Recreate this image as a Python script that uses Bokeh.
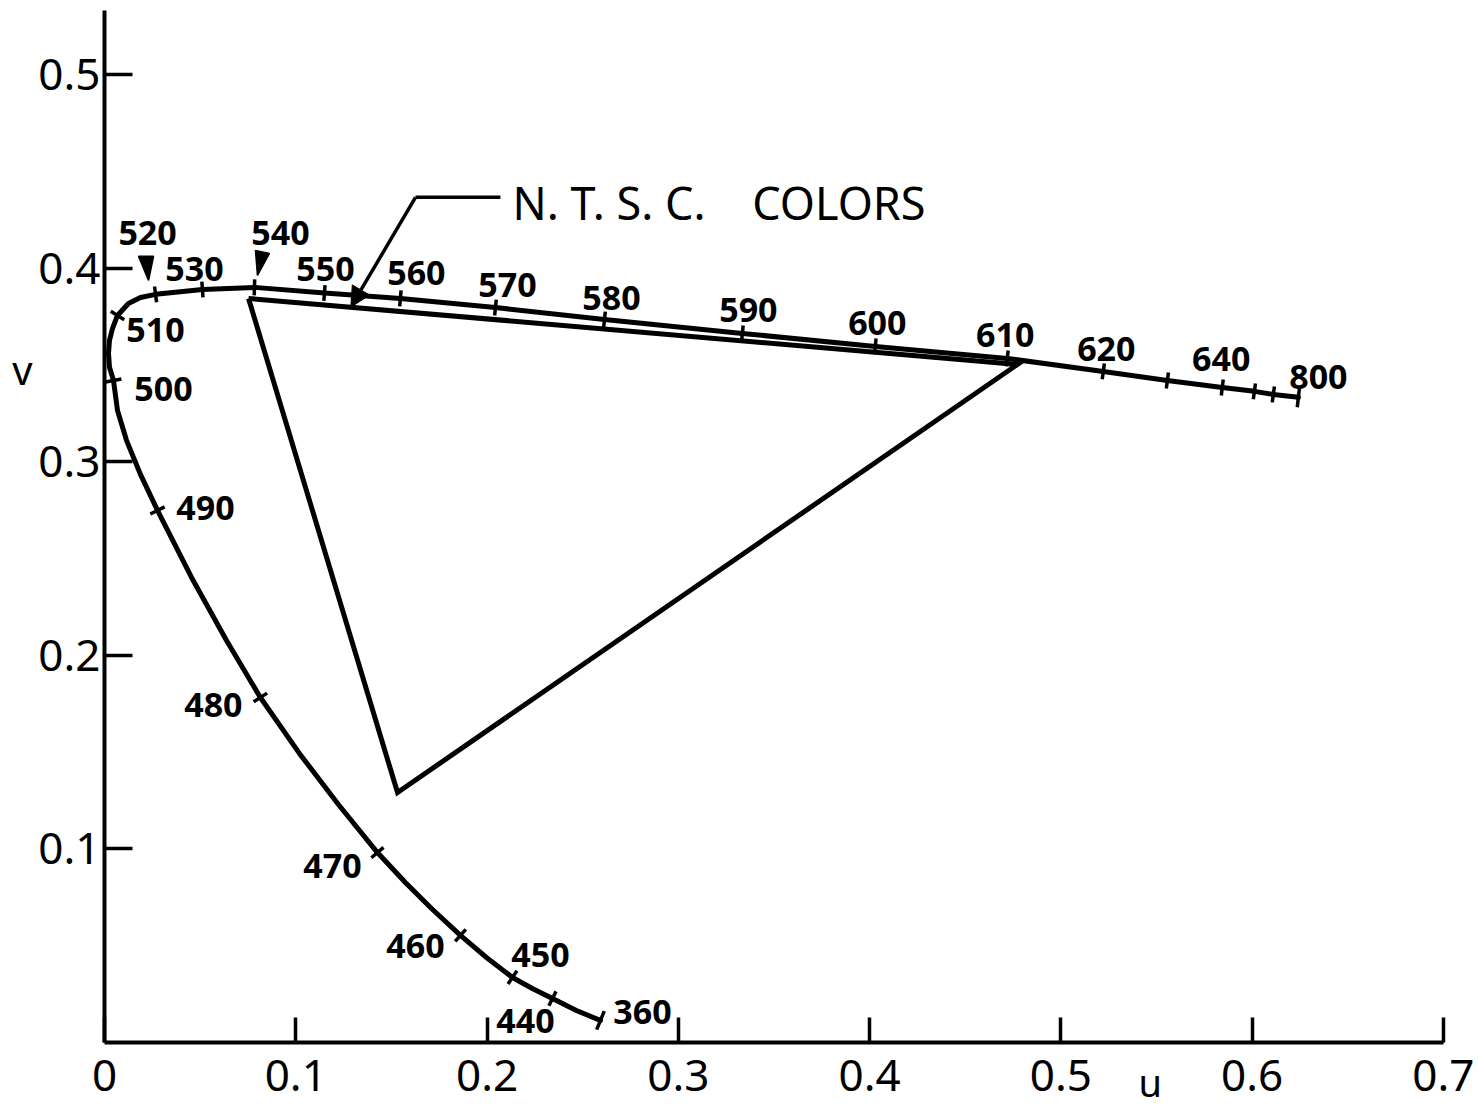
import numpy as np
from bokeh.plotting import figure
from bokeh.models import FixedTicker, Range1d, Label, Arrow, NormalHead, LinearAxis
from bokeh.core.properties import value
from bokeh.embed import file_html
from bokeh.resources import INLINE

# Spectrum locus in the CIE 1960 UCS diagram, short to long wavelength
locus_u = [0.2593, 0.2467, 0.2342, 0.2237, 0.2133, 0.1997, 0.1861, 0.1715,
           0.1573, 0.1427, 0.1223, 0.1019, 0.0815, 0.0638, 0.0455, 0.0277,
           0.0188, 0.0115, 0.0068, 0.0047, 0.0026, 0.0021, 0.0026, 0.0042,
           0.0068, 0.0125, 0.0188, 0.0267, 0.0512, 0.0784, 0.1150, 0.1547,
           0.2044, 0.2614, 0.3335, 0.4030, 0.4720, 0.5222, 0.5557, 0.5844,
           0.6012, 0.6111, 0.6242]
locus_v = [0.0114, 0.0165, 0.0227, 0.0279, 0.0336, 0.0439, 0.0553, 0.0687,
           0.0826, 0.0981, 0.1229, 0.1493, 0.1782, 0.2076, 0.2402, 0.2748,
           0.2934, 0.3110, 0.3264, 0.3419, 0.3487, 0.3559, 0.3626, 0.3688,
           0.3755, 0.3817, 0.3848, 0.3864, 0.3889, 0.3900, 0.3871, 0.3843,
           0.3796, 0.3734, 0.3662, 0.3595, 0.3533, 0.3466, 0.3419, 0.3383,
           0.3363, 0.3347, 0.3332]

# Wavelength marks on the locus (nm)
mark_nm = [360, 440, 450, 460, 470, 480, 490, 500, 510, 520, 530, 540, 550,
           560, 570, 580, 590, 600, 610, 620, 630, 640, 650, 660, 800]
mark_u = [0.2593, 0.2342, 0.2133, 0.1861, 0.1427, 0.0815, 0.0277, 0.0047,
          0.0068, 0.0267, 0.0512, 0.0784, 0.1150, 0.1547, 0.2044, 0.2614,
          0.3335, 0.4030, 0.4720, 0.5222, 0.5557, 0.5844, 0.6012, 0.6111,
          0.6242]
mark_v = [0.0114, 0.0227, 0.0336, 0.0553, 0.0981, 0.1782, 0.2748, 0.3419,
          0.3755, 0.3864, 0.3889, 0.3900, 0.3871, 0.3843, 0.3796, 0.3734,
          0.3662, 0.3595, 0.3533, 0.3466, 0.3419, 0.3383, 0.3363, 0.3347,
          0.3332]
unlabeled_nm = [630, 650, 660]
arrowed_nm = [520, 540]

# N.T.S.C. primaries (G, B, R)
ntsc_u = [0.0753, 0.1532, 0.4773]
ntsc_v = [0.3843, 0.1291, 0.3502]

x_ticks = [0.0, 0.1, 0.2, 0.3, 0.4, 0.5, 0.6, 0.7]
x_tick_labels = ["0", "0.1", "0.2", "0.3", "0.4", "0.5", "0.6", "0.7"]
y_ticks = [0.1, 0.2, 0.3, 0.4, 0.5]
y_tick_labels = ["0.1", "0.2", "0.3", "0.4", "0.5"]

# ---- layout ----
LEFT, RIGHT, TOP, BOTTOM = 104, 16, 10, 71
FW, FH = 1478 - LEFT - RIGHT, 1113 - TOP - BOTTOM
X_END, Y_END = 0.71, 0.533
PXU, PXV = FW / X_END, FH / Y_END   # pixels per data unit
FONT = "Noto Sans"
U_NAME_AT, V_NAME_AT = 0.5468, 0.3476   # where the axis names sit along each axis

# label placement around each mark, screen pixels (right, down)
label_dx = {360: 42, 440: -27, 450: 28, 460: -45, 470: -45, 480: -47,
            490: 48, 500: 50, 510: 38, 520: -8, 530: -8, 540: 26, 550: 1,
            560: 16, 570: 12, 580: 7, 590: 6, 600: 2, 610: -2, 620: 3,
            640: -1, 800: 20}
label_dy = {360: -8, 440: 22, 450: -22, 460: 11, 470: 13, 480: 8, 490: -2,
            500: 8, 510: 15, 520: -61, 530: -21, 540: -54, 550: -24,
            560: -25, 570: -23, 580: -22, 590: -23, 600: -23, 610: -23,
            620: -22, 640: -28, 800: -20}

p = figure(frame_width=FW, frame_height=FH,
           x_range=Range1d(0, X_END), y_range=Range1d(0, Y_END),
           output_backend="svg", toolbar_location=None,
           min_border_left=LEFT, min_border_right=RIGHT,
           min_border_top=TOP, min_border_bottom=BOTTOM,
           x_axis_location="below", y_axis_location="left")
p.outline_line_color = None
p.xgrid.visible = False
p.ygrid.visible = False
p.background_fill_color = "white"
p.border_fill_color = "white"

xa = p.xaxis[0]
xa.ticker = FixedTicker(ticks=x_ticks)
xa.major_label_overrides = dict(zip(x_ticks, x_tick_labels))
xa.bounds = (0, 0.7)
xa.axis_line_width = 4
xa.major_tick_line_width = 3.5
xa.major_tick_in = 25
xa.major_tick_out = 0
xa.minor_tick_line_color = None
xa.major_label_standoff = 17
xa.major_label_text_font = FONT
xa.major_label_text_font_size = "44px"
xa.major_label_text_color = "black"

ya = p.yaxis[0]
ya.ticker = FixedTicker(ticks=y_ticks)
ya.major_label_overrides = dict(zip(y_ticks, y_tick_labels))
ya.bounds = (0, Y_END)
ya.axis_line_width = 4
ya.major_tick_line_width = 3.5
ya.major_tick_in = 28
ya.major_tick_out = 0
ya.minor_tick_line_color = None
ya.major_label_standoff = 4
ya.major_label_text_font = FONT
ya.major_label_text_font_size = "44px"
ya.major_label_text_color = "black"


def name_axis(pos, name, standoff, size):
    """A bare axis whose only label is the axis name, placed at `pos`."""
    return LinearAxis(ticker=FixedTicker(ticks=[pos]),
                      major_label_overrides={pos: name},
                      axis_line_color=None, major_tick_line_color=None,
                      minor_tick_line_color=None,
                      major_tick_in=0, major_tick_out=0,
                      major_label_standoff=standoff,
                      major_label_text_font=FONT,
                      major_label_text_font_size=size,
                      major_label_text_color="black")


p.add_layout(name_axis(U_NAME_AT, "u", -38, "38px"), "below")
p.add_layout(name_axis(V_NAME_AT, "v", 3, "40px"), "left")

# spectrum locus
p.line(locus_u, locus_v, line_width=5, line_color="black",
       line_join="round", line_cap="round")

# N.T.S.C. triangle
p.line(ntsc_u + ntsc_u[:1], ntsc_v + ntsc_v[:1], line_width=5,
       line_color="black", line_join="miter")

# short ticks across the locus at each mark
lu, lv = np.array(locus_u), np.array(locus_v)
sx0, sy0, sx1, sy1 = [], [], [], []
for nm, a, b in zip(mark_nm, mark_u, mark_v):
    k = int(np.argmin((lu - a) ** 2 + (lv - b) ** 2))
    i0, i1 = max(k - 1, 0), min(k + 1, len(lu) - 1)
    tx, ty = (lu[i1] - lu[i0]) * PXU, (lv[i1] - lv[i0]) * PXV
    n = np.hypot(tx, ty)
    nx, ny = -ty / n, tx / n
    half = 10 if nm in (360, 800) else 8
    sx0.append(a - nx * half / PXU)
    sx1.append(a + nx * half / PXU)
    sy0.append(b - ny * half / PXV)
    sy1.append(b + ny * half / PXV)
p.segment(sx0, sy0, sx1, sy1, line_width=3.5, line_color="black")

# wavelength labels
lab_u, lab_v, lab_t, lab_dx, lab_dy = [], [], [], [], []
for nm, a, b in zip(mark_nm, mark_u, mark_v):
    if nm in unlabeled_nm:
        continue
    lab_u.append(a)
    lab_v.append(b)
    lab_t.append(str(nm))
    lab_dx.append(label_dx[nm])
    lab_dy.append(label_dy[nm])
p.text(lab_u, lab_v, text=lab_t, x_offset=lab_dx, y_offset=lab_dy,
       text_align="center", text_baseline="middle",
       text_font=value(FONT), text_font_size="34px", text_font_style="bold",
       text_color="black")

# small pointer wedges above 520 and 540 (screen-pixel shapes: tip, top-left, top-right)
wedge_shape = {520: [(-7, -14), (-17, -38), (-2, -38)],
               540: [(3, -12), (1, -37), (15, -34)]}
wxs, wys = [], []
for nm, a, b in zip(mark_nm, mark_u, mark_v):
    if nm in arrowed_nm:
        wxs.append([a + dx / PXU for dx, dy in wedge_shape[nm]])
        wys.append([b - dy / PXV for dx, dy in wedge_shape[nm]])
p.patches(wxs, wys, fill_color="black", line_color="black", line_width=1.5)

# N.T.S.C. callout pointing at the green-red side of the triangle
frac = 0.133
tip_u = ntsc_u[0] + frac * (ntsc_u[2] - ntsc_u[0])
tip_v = ntsc_v[0] + frac * (ntsc_v[2] - ntsc_v[0])
elbow_u, elbow_v, end_u = 0.1626, 0.4365, 0.2070
p.line([elbow_u, end_u], [elbow_v, elbow_v], line_width=3.5, line_color="black")
p.add_layout(Arrow(x_start=elbow_u, y_start=elbow_v, x_end=tip_u, y_end=tip_v,
                   line_width=3.5, line_color="black",
                   end=NormalHead(size=20, fill_color="black", line_color="black")))
p.add_layout(Label(x=0.2133, y=0.4339, text="N. T. S. C.", text_align="left",
                   text_baseline="middle", text_font=FONT,
                   text_font_size="45px", text_color="black"))
p.add_layout(Label(x=0.3387, y=0.4339, text="COLORS", text_align="left",
                   text_baseline="middle", text_font=FONT,
                   text_font_size="45px", text_color="black"))

open("out.html", "w").write(file_html(p, INLINE))
